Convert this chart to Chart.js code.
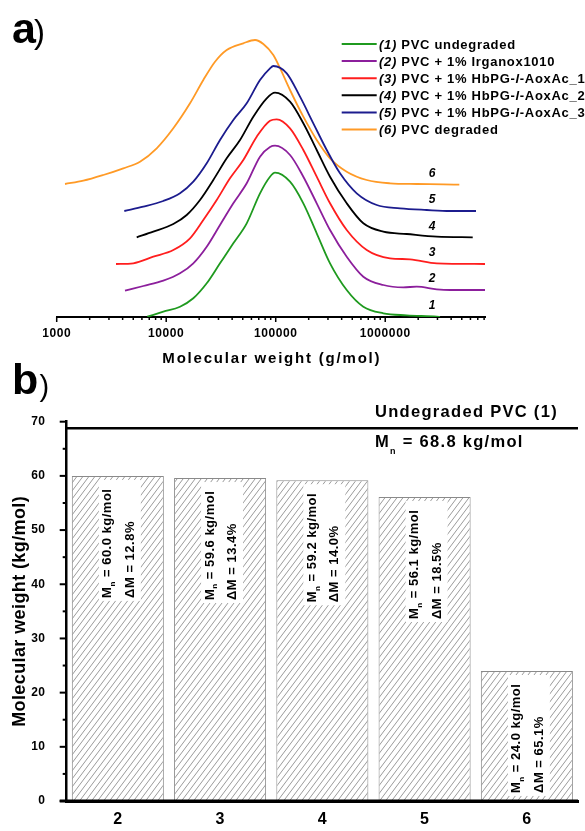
<!DOCTYPE html>
<html><head><meta charset="utf-8">
<script src="https://cdn.jsdelivr.net/npm/chart.js@4"></script>
<style>
html,body{margin:0;padding:0;background:#fff;}
body{width:585px;height:831px;position:relative;overflow:hidden;}
#wrapA{position:absolute;left:0;top:0;width:585px;height:370px;}
#wrapB{position:absolute;left:0;top:355px;width:585px;height:476px;}
</style></head><body>
<div id="wrapA"><canvas id="chartA"></canvas></div>
<div id="wrapB"><canvas id="chartB"></canvas></div>
<script>
// ---------------- DATA: panel a (GPC traces, offset vertically) ----------------
const seriesNames = ['PVC undegraded','PVC + 1% Irganox1010','PVC + 1% HbPG-l-AoxAc_1','PVC + 1% HbPG-l-AoxAc_2','PVC + 1% HbPG-l-AoxAc_3','PVC degraded'];
const seriesColors = ['#1f9a1f','#8c1f9c','#ff1e1e','#000000','#1c1c8e','#ff9a26'];

const mw1  = [6721, 9408, 13370, 17680, 23440, 31000, 41010, 54350, 71880, 88700, 98540, 135100, 178700, 236800, 313300, 445000, 631000, 960700, 1572000, 2954000, 3167000];
const sig1 = [0.3, 5.3, 10.3, 18.7, 33.7, 53.7, 73.7, 93.7, 123.7, 140.3, 144.3, 135.3, 113.7, 83.7, 53.7, 27, 10.3, 3.7, 1.7, 0.3, 0];

const mw2  = [4205, 6180, 9408, 13370, 17680, 23440, 31000, 41010, 54350, 71880, 88700, 98540, 135100, 178700, 236800, 313300, 445000, 631000, 960700, 1463000, 1940000, 2954000, 3907000, 8153000];
const sig2 = [26.3, 31, 36.3, 43.7, 53.7, 70.3, 92, 113.7, 133.7, 160.3, 170, 171.3, 162, 140.3, 113.7, 87, 60.3, 40.3, 32, 29.7, 30.3, 27.7, 27, 27];

const mw3  = [3480, 5006, 7625, 11610, 16500, 21820, 28930, 38230, 50590, 67060, 88700, 102100, 135100, 178700, 236800, 313300, 445000, 677800, 1106000, 1685000, 2954000, 8153000];
const sig3 = [53, 53.7, 60.3, 67, 78.7, 97, 117, 138.7, 157, 180.3, 196.3, 197.7, 188.7, 167, 140.3, 113.7, 87, 67, 58.7, 57.7, 53.7, 53];

const mw4  = [5378, 7625, 11610, 15390, 20360, 26920, 35680, 47210, 62430, 82770, 98540, 135100, 178700, 236800, 313300, 445000, 631000, 960700, 1572000, 2954000, 6297000];
const sig4 = [79.7, 85.3, 93, 102, 117, 137, 158.7, 177, 200.3, 218.7, 224.3, 215.3, 193.7, 167, 140.3, 113.7, 93.7, 85.3, 83, 80.3, 79.7];

const mw5  = [4144, 6180, 9408, 13370, 17680, 23440, 31000, 41010, 54350, 71880, 88700, 95080, 126100, 166700, 220500, 292300, 386600, 549200, 836400, 1365000, 2393000, 3907000, 6749000];
const sig5 = [106, 110.3, 116, 123.7, 135.3, 153.7, 177, 197, 213.7, 237, 248.7, 251, 243.7, 220.3, 193.7, 167, 143.7, 123.7, 112, 108.7, 107, 106, 106];

const mw6  = [1191, 1750, 2665, 4057, 5765, 8190, 11610, 16500, 21820, 27910, 35680, 50590, 64710, 77060, 95080, 107900, 135100, 178700, 236800, 313300, 445000, 677800, 1106000, 1940000, 3394000, 4750000];
const sig6 = [133, 136.3, 142, 148.7, 155.3, 168.7, 188.7, 213.7, 237, 255.3, 267, 273.7, 277, 273, 262, 250.3, 227, 200.3, 177, 158.7, 145.3, 137, 133.7, 133, 132.7, 132.3];

const xMajorTicks = [1000, 10000, 100000, 1000000];
const xTitleA = 'Molecular weight (g/mol)';
const curveLabelMw = 2680000;

// ---------------- DATA: panel b (bars) ----------------
const barCats = ['2','3','4','5','6'];
const barMn = [60.0, 59.6, 59.2, 56.1, 24.0];
const barDeltaM = [12.8, 13.4, 14.0, 18.5, 65.1];
const undegradedMn = 68.8;
const yTitleB = 'Molecular weight (kg/mol)';

// ---------------- helpers ----------------
const FONT = '"Liberation Sans", Arial, Helvetica, sans-serif';
Chart.defaults.font.family = FONT;
Chart.defaults.color = '#000';
function setLS(ctx, v){ try { ctx.letterSpacing = v + 'px'; } catch(e){} }
function seg(ctx, x1, y1, x2, y2){ ctx.beginPath(); ctx.moveTo(x1,y1); ctx.lineTo(x2,y2); ctx.stroke(); }

function legendSegments(i){
  const segs = [{t:'(' + (i+1) + ')', it:true}, {t:' ', it:false}];
  const parts = seriesNames[i].split('-l-');
  parts.forEach((p,k)=>{
    if (k>0) { segs.push({t:'-', it:false}, {t:'l', it:true}, {t:'-', it:false}); }
    segs.push({t:p, it:false});
  });
  return segs;
}

const mwSeries = [mw1, mw2, mw3, mw4, mw5, mw6];
const sigSeries = [sig1, sig2, sig3, sig4, sig5, sig6];

const datasetsA = seriesNames.map((n,i)=>({
  label: n,
  data: mwSeries[i].map((m,j)=>({x:m, y:sigSeries[i][j]})),
  borderColor: seriesColors[i],
  backgroundColor: seriesColors[i],
  borderWidth: 1.8,
  pointRadius: 0,
  fill: false,
  cubicInterpolationMode: 'monotone'
}));

const plugA = {
  id: 'plugA',
  beforeDraw(chart){ setLS(chart.ctx, 0.6); },
  afterDraw(chart){
    const ctx = chart.ctx, xs = chart.scales.x, ys = chart.scales.y, ca = chart.chartArea;
    ctx.save();
    // tick marks
    ctx.strokeStyle = '#000'; ctx.lineWidth = 1.5;
    const yb = ca.bottom;
    xMajorTicks.forEach(v=>{
      const px = xs.getPixelForValue(v);
      seg(ctx, px, yb, px, yb+5);
      for (let m=2; m<=9; m++){
        const mv = v*m;
        if (mv <= xs.max) { const p = xs.getPixelForValue(mv); seg(ctx, p, yb, p, yb+3); }
      }
    });
    // axis title
    ctx.fillStyle = '#000';
    setLS(ctx, 1.8);
    ctx.font = 'bold 15px ' + FONT; ctx.textAlign = 'center'; ctx.textBaseline = 'alphabetic';
    ctx.fillText(xTitleA, (ca.left+ca.right)/2 + 1, ca.bottom + 46.3);
    // curve numbers
    setLS(ctx, 0);
    ctx.font = 'italic bold 12px ' + FONT; ctx.textBaseline = 'middle'; ctx.textAlign = 'center';
    chart.data.datasets.forEach((ds,i)=>{
      const last = ds.data[ds.data.length-1];
      ctx.fillText(String(i+1), xs.getPixelForValue(curveLabelMw), ys.getPixelForValue(last.y) - 11);
    });
    // legend
    setLS(ctx, 0.7);
    ctx.textAlign = 'left'; ctx.textBaseline = 'alphabetic';
    seriesNames.forEach((n,i)=>{
      const y = 44 + i*17.1;
      ctx.strokeStyle = seriesColors[i]; ctx.lineWidth = 2;
      seg(ctx, 341.7, y, 376.7, y);
      let x = 379;
      legendSegments(i).forEach(s=>{
        ctx.font = (s.it ? 'italic ' : '') + 'bold 13px ' + FONT;
        ctx.fillText(s.t, x, y + 4.7);
        x += ctx.measureText(s.t).width;
      });
    });
    // panel label
    setLS(ctx, 0);
    ctx.font = 'bold 43px ' + FONT; ctx.fillText('a', 12, 42.7);
    ctx.font = '33px ' + FONT; ctx.fillText(')', 34, 42.5);
    ctx.restore();
  }
};

new Chart(document.getElementById('chartA'), {
  type: 'line',
  data: { datasets: datasetsA },
  options: {
    responsive: true, maintainAspectRatio: false, animation: false, devicePixelRatio: 1,
    layout: { padding: { left: 56.7, right: 100, top: 27, bottom: 0 } },
    plugins: { legend: { display: false }, tooltip: { enabled: false } },
    scales: {
      x: {
        type: 'logarithmic', min: 1000, max: 8150000,
        afterBuildTicks: s => { s.ticks = xMajorTicks.map(v=>({value:v, major:true})); },
        afterFit: s => { s.height = 53; },
        grid: { display: false },
        border: { display: true, color: '#000', width: 2 },
        ticks: { padding: 1.5, color: '#000', autoSkip: false, maxRotation: 0,
                 font: { family: FONT, size: 12, weight: 'bold' },
                 callback: v => String(v) },
        title: { display: false }
      },
      y: { type: 'linear', min: 0, max: 290, display: false }
    }
  },
  plugins: [plugA]
});

// ---------------- panel b ----------------
function hatchPattern(){
  const c = document.createElement('canvas'); c.width = 6; c.height = 8;
  const g = c.getContext('2d');
  g.fillStyle = '#fff'; g.fillRect(0,0,6,8);
  g.strokeStyle = '#8f8f8f'; g.lineWidth = 0.9;
  g.beginPath(); g.moveTo(-1.5,10); g.lineTo(7.5,-2); g.stroke();
  g.beginPath(); g.moveTo(-1.5,2); g.lineTo(1.5,-2); g.stroke();
  g.beginPath(); g.moveTo(4.5,10); g.lineTo(7.5,6); g.stroke();
  return g.createPattern(c, 'repeat');
}

function drawMn(ctx, x, y, size, subSize, subDy, rest){
  ctx.font = 'bold ' + size + 'px ' + FONT;
  ctx.fillText('M', x, y);
  const w = ctx.measureText('M').width;
  ctx.font = 'bold ' + subSize + 'px ' + FONT;
  ctx.fillText('n', x + w, y + subDy);
  const w2 = ctx.measureText('n').width;
  ctx.font = 'bold ' + size + 'px ' + FONT;
  ctx.fillText(rest, x + w + w2, y);
}

const plugB = {
  id: 'plugB',
  beforeDraw(chart){ setLS(chart.ctx, 0.4); },
  afterDatasetsDraw(chart){
    const ctx = chart.ctx; const meta = chart.getDatasetMeta(0);
    ctx.save();
    setLS(ctx, 0.5);
    meta.data.forEach((el,i)=>{
      const cx = el.x, top = el.y;
      ctx.fillStyle = '#fff';
      ctx.fillRect(cx-19, top+4, 42, 121);
      ctx.fillStyle = '#000';
      ctx.textAlign = 'left'; ctx.textBaseline = 'middle';
      ctx.save(); ctx.translate(cx-10, top+122); ctx.rotate(-Math.PI/2);
      drawMn(ctx, 0, 0, 13, 8, 5, ' = ' + barMn[i].toFixed(1) + ' kg/mol');
      ctx.restore();
      ctx.save(); ctx.translate(cx+12.5, top+122); ctx.rotate(-Math.PI/2);
      ctx.font = 'bold 13px ' + FONT;
      ctx.fillText('\u0394M = ' + barDeltaM[i].toFixed(1) + '%', 0, 0);
      ctx.restore();
    });
    ctx.restore();
  },
  afterDraw(chart){
    const ctx = chart.ctx, ys = chart.scales.y, ca = chart.chartArea;
    ctx.save();
    // x axis line redrawn over bar outlines
    ctx.strokeStyle = '#000'; ctx.lineWidth = 3;
    seg(ctx, ca.left - 7, ca.bottom, ca.right, ca.bottom);
    // y tick marks
    ctx.lineWidth = 2;
    for (let v = ys.min; v <= ys.max; v += 5){
      const p = ys.getPixelForValue(v);
      const len = (v % 10 === 0) ? 7 : 4;
      seg(ctx, ca.left - len, p, ca.left, p);
    }
    // undegraded reference line
    const yl = ys.getPixelForValue(undegradedMn);
    ctx.lineWidth = 2.5;
    seg(ctx, ca.left, yl, ca.right, yl);
    ctx.fillStyle = '#000'; ctx.textAlign = 'left'; ctx.textBaseline = 'alphabetic';
    setLS(ctx, 1.3);
    ctx.font = 'bold 16.5px ' + FONT;
    ctx.fillText('Undegraded PVC (1)', ca.right - 203, yl - 10.9);
    drawMn(ctx, ca.right - 203, yl + 18.8, 16.5, 9, 7.3, ' = ' + undegradedMn.toFixed(1) + ' kg/mol');
    // panel label
    setLS(ctx, 0);
    ctx.font = 'bold 43px ' + FONT; ctx.fillText('b', 12, 39.3);
    ctx.font = '29px ' + FONT; ctx.fillText(')', 39.4, 40.6);
    ctx.restore();
  }
};

new Chart(document.getElementById('chartB'), {
  type: 'bar',
  data: {
    labels: barCats,
    datasets: [{
      label: 'Mn',
      data: barMn,
      backgroundColor: hatchPattern(),
      borderColor: '#8a8a8a',
      borderWidth: 1,
      barPercentage: 0.9,
      categoryPercentage: 1.0
    }]
  },
  options: {
    responsive: true, maintainAspectRatio: false, animation: false, devicePixelRatio: 1,
    layout: { padding: { left: 0, right: 7, top: 66.7, bottom: 0 } },
    plugins: { legend: { display: false }, tooltip: { enabled: false } },
    scales: {
      x: {
        type: 'category', offset: true,
        grid: { display: false },
        border: { display: true, color: '#000', width: 3 },
        ticks: { padding: 1, color: '#000', font: { family: FONT, size: 16, weight: 'bold' } },
        afterFit: s => { s.height = 30; }
      },
      y: {
        min: 0, max: 70,
        grid: { display: false },
        border: { display: true, color: '#000', width: 2.5 },
        ticks: { stepSize: 10, padding: 13.4, color: '#000', font: { family: FONT, size: 12, weight: 'bold' } },
        title: { display: true, text: yTitleB, color: '#000', font: { family: FONT, size: 18, weight: 'bold' }, padding: { top: 9.2, bottom: 0 } },
        afterFit: s => { s.width = 66.7; }
      }
    }
  },
  plugins: [plugB]
});
</script>
</body></html>
